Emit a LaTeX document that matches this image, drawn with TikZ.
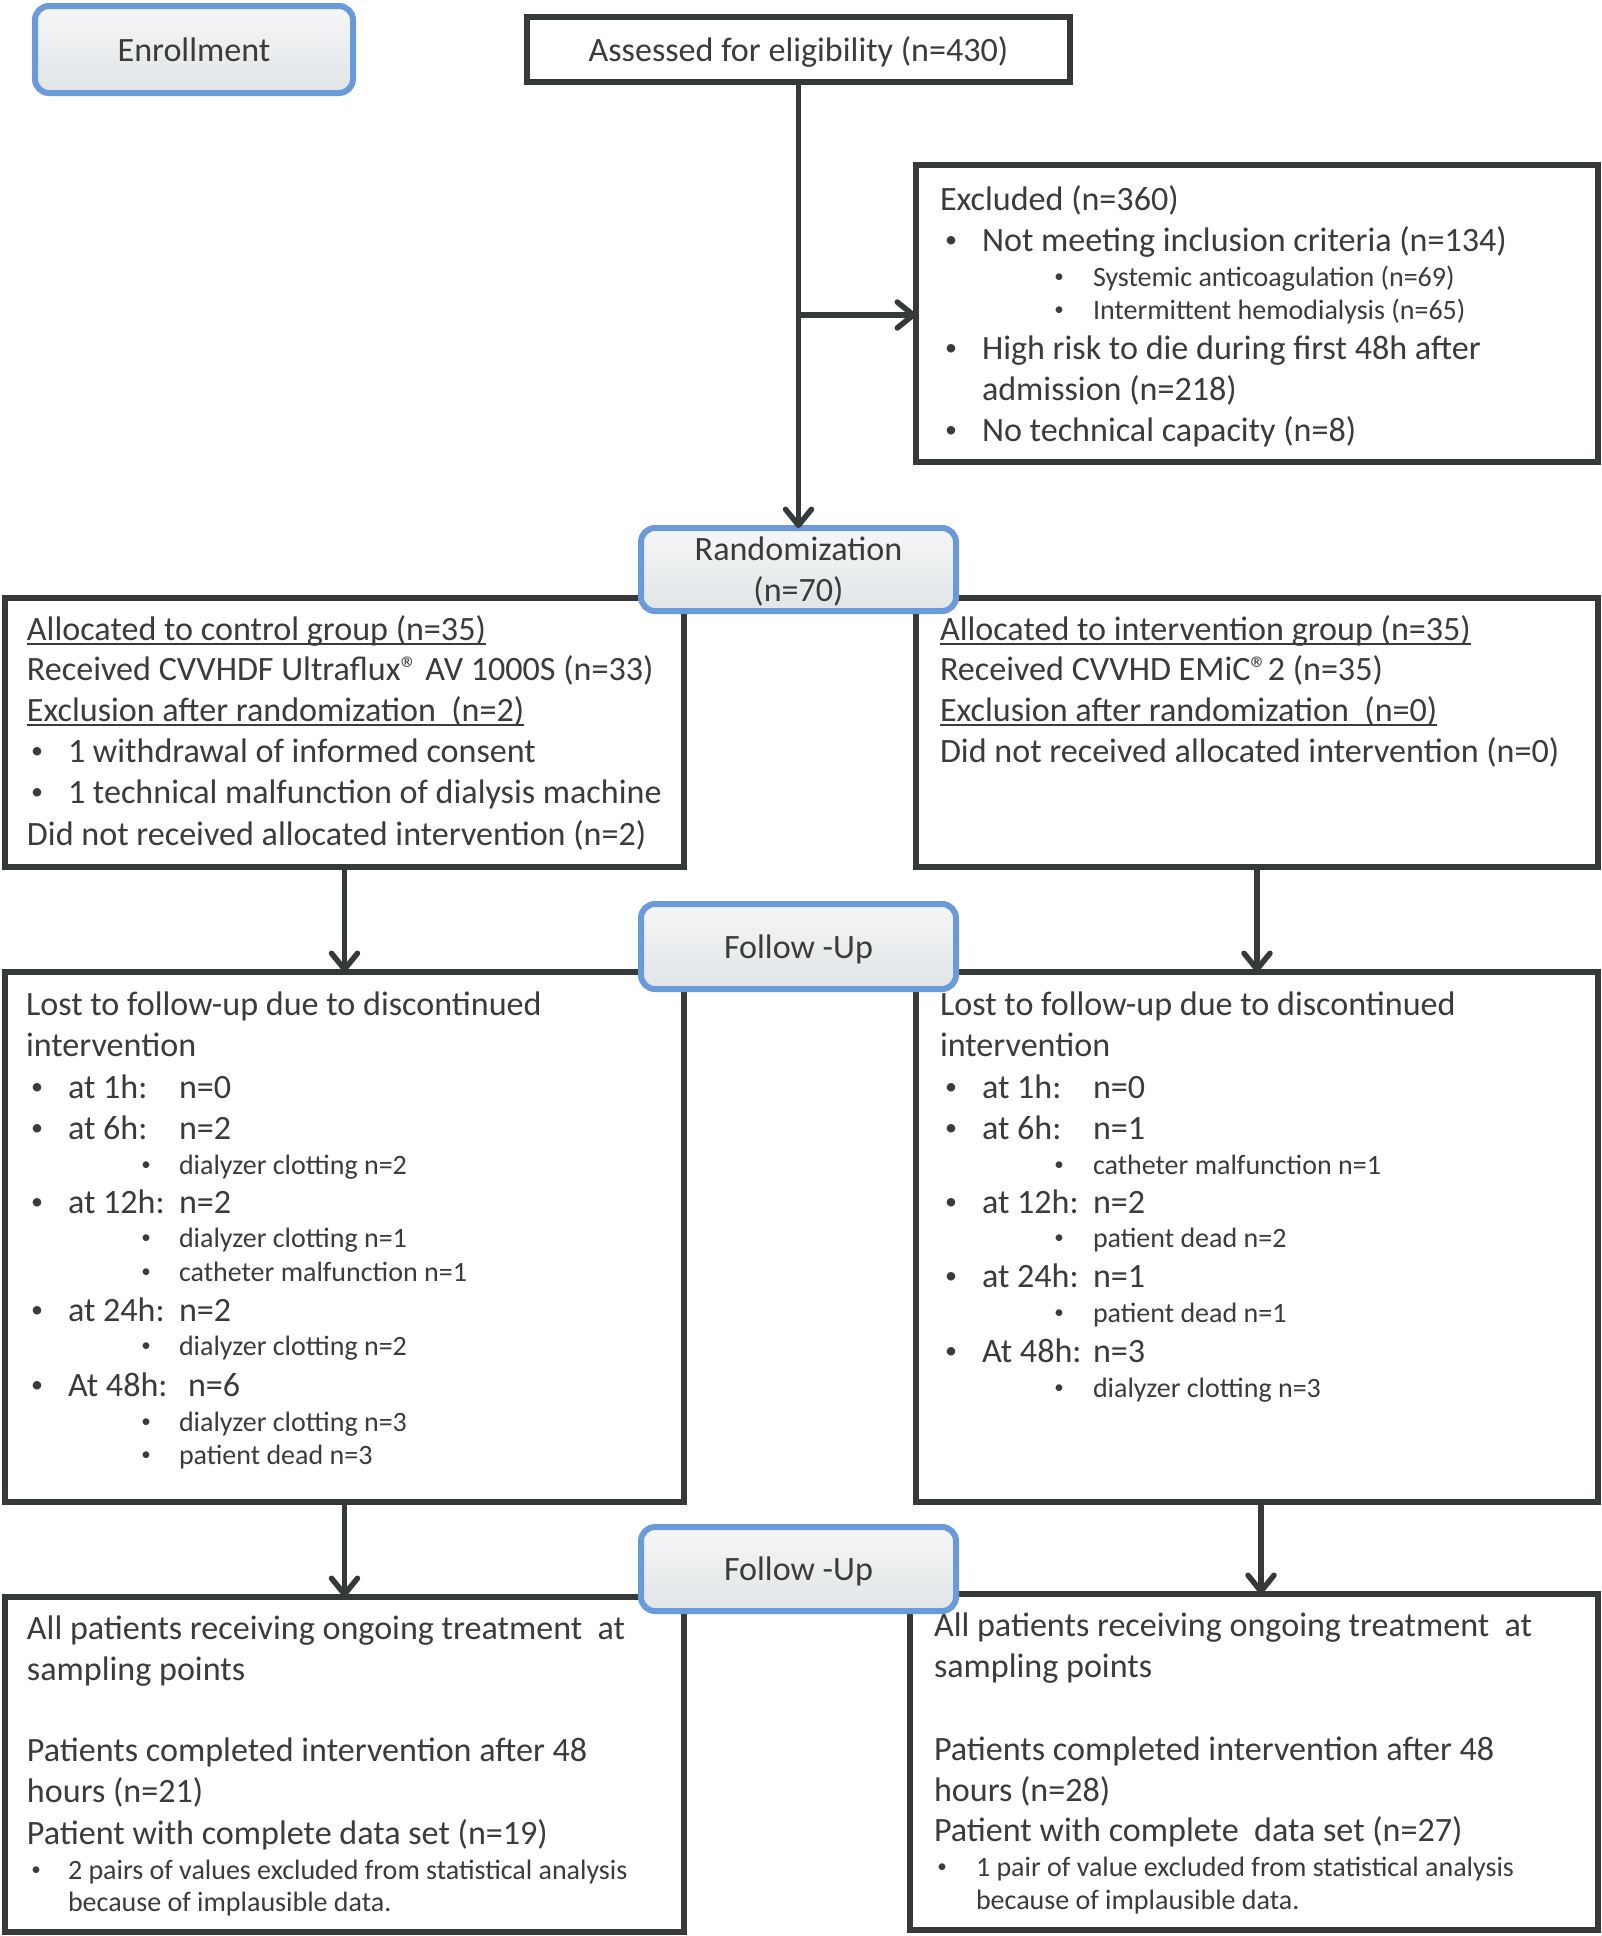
\documentclass[tikz,border=0pt]{standalone}
\usepackage{fontspec}
\setmainfont{Carlito}
\usetikzlibrary{arrows.meta}
\definecolor{dark}{HTML}{35393A}
\definecolor{txtc}{HTML}{3B3B3B}
\definecolor{blueb}{HTML}{6A9AD9}
\definecolor{gtop}{HTML}{F5F6F7}
\definecolor{gbot}{HTML}{E1E5E7}
\newcommand\fsM{\fontsize{34.1}{40.8}\selectfont}
\newcommand\fsS{\fontsize{28}{33}\selectfont}
\newcommand\myul[1]{\setbox0\hbox{#1}\rlap{\rule[-4.5pt]{\wd0}{1.8pt}}\box0}
\newcommand\reg{®}
\newcounter{lnc}
\newcommand\Ln[4]{\stepcounter{lnc}\node[#1] (t\arabic{lnc}) at (#2,#3) {#4};}
\newcommand\Bx[7]{\node[#2, minimum width={#5pt-#3pt}, minimum height={#6pt-#4pt}] (#1) at ({(#3+#5)/2},{(#4+#6)/2}) {#7};}
\tikzset{
  plainbox/.style={draw=dark, line width=5.5pt, fill=white, inner sep=0pt, outer sep=0pt},
  stage/.style={draw=blueb, line width=6pt, rounded corners=14pt, top color=gtop, bottom color=gbot, inner sep=0pt, outer sep=0pt, align=center, text=txtc, font=\fsM, text depth=0pt},
  txt/.style={anchor=base west, inner sep=0pt, outer sep=0pt, text=txtc, font=\fsM},
  sm/.style={txt, font=\fsS},
  bM/.style={anchor=base, inner sep=0pt, outer sep=0pt, text=txtc, font=\fontsize{24}{24}\selectfont, yshift=3.5pt},
  bS/.style={anchor=base, inner sep=0pt, outer sep=0pt, text=txtc, font=\fontsize{19}{19}\selectfont, yshift=3.5pt},
  arr/.style={draw=dark, line width=5.5pt, -{Straight Barb[length=16pt,width=26pt,round]}}
}
\begin{document}
\begin{tikzpicture}[x=1pt,y=-1pt]
\useasboundingbox[fill=white] (0,0) rectangle (1602,1936);
% top
\Bx{enroll}{stage}{35}{6}{353}{93}{Enrollment}
\Bx{assess}{plainbox,text=txtc,font=\fsM,text depth=0pt}{527}{17}{1070}{82}{Assessed for eligibility (n=430)}
\Bx{excl}{plainbox}{916}{165}{1598}{462}{}
% allocation
\Bx{ctrl}{plainbox}{5}{598}{684}{867}{}
\Bx{intv}{plainbox}{916}{598}{1598}{867}{}
\Bx{rand}{stage}{641}{528}{956}{611}{Randomization\\(n=70)}
% follow up
\Bx{lostL}{plainbox}{5}{972}{684}{1502}{}
\Bx{lostR}{plainbox}{916}{972}{1598}{1502}{}
\Bx{fu1}{stage}{641}{904}{956}{989}{Follow -Up}
% bottom
\Bx{botL}{plainbox}{5}{1597}{684}{1932}{}
\Bx{botR}{plainbox}{910}{1594}{1598}{1930}{}
\Bx{fu2}{stage}{641}{1527}{956}{1611}{Follow -Up}
% connectors
\draw[arr] (assess.south) -- (rand.north);
\coordinate (br) at (799,315);
\draw[arr] (br) -- (br -| excl.west);
\draw[arr] (ctrl.south) -- (lostL.north);
\draw[arr] (intv.south) -- (lostR.north);
\draw[arr] (lostL.south) -- (botL.north);
\draw[arr] ([xshift=4pt]lostR.south) -- ([xshift=4pt]lostR.south |- botR.north);
% excluded text
\Ln{txt}{940}{210}{Excluded (n=360)}
\Ln{bM}{951}{251}{•}
\Ln{txt}{982}{251}{Not meeting inclusion criteria (n=134)}
\Ln{bS}{1059}{286}{•}
\Ln{sm}{1093}{286}{Systemic anticoagulation (n=69)}
\Ln{bS}{1059}{319}{•}
\Ln{sm}{1093}{319}{Intermittent hemodialysis (n=65)}
\Ln{bM}{951}{359}{•}
\Ln{txt}{982}{359}{High risk to die during first 48h after}
\Ln{txt}{982}{400}{admission (n=218)}
\Ln{bM}{951}{441}{•}
\Ln{txt}{982}{441}{No technical capacity (n=8)}
% control allocation
\Ln{txt}{27}{640}{\myul{Allocated to control group (n=35)}}
\Ln{txt}{27}{680}{Received CVVHDF Ultraflux\reg{} AV 1000S (n=33)}
\Ln{txt}{27}{721}{\myul{Exclusion after randomization~ (n=2)}}
\Ln{bM}{37}{762}{•}
\Ln{txt}{68}{762}{1 withdrawal of informed consent}
\Ln{bM}{37}{803}{•}
\Ln{txt}{68}{803}{1 technical malfunction of dialysis machine}
\Ln{txt}{27}{845}{Did not received allocated intervention (n=2)}
% intervention allocation
\Ln{txt}{940}{640}{\myul{Allocated to intervention group (n=35)}}
\Ln{txt}{940}{680}{Received CVVHD EMiC\reg{}2 (n=35)}
\Ln{txt}{940}{721}{\myul{Exclusion after randomization~ (n=0)}}
\Ln{txt}{940}{762}{Did not received allocated intervention (n=0)}
% lost left
\Ln{txt}{26}{1015}{Lost to follow-up due to discontinued}
\Ln{txt}{26}{1056}{intervention}
\Ln{bM}{37}{1098}{•}\Ln{txt}{68}{1098}{at 1h:}\Ln{txt}{179}{1098}{n=0}
\Ln{bM}{37}{1139}{•}\Ln{txt}{68}{1139}{at 6h:}\Ln{txt}{179}{1139}{n=2}
\Ln{bS}{146}{1174}{•}\Ln{sm}{179}{1174}{dialyzer clotting n=2}
\Ln{bM}{37}{1213}{•}\Ln{txt}{68}{1213}{at 12h:}\Ln{txt}{179}{1213}{n=2}
\Ln{bS}{146}{1247}{•}\Ln{sm}{179}{1247}{dialyzer clotting n=1}
\Ln{bS}{146}{1281}{•}\Ln{sm}{179}{1281}{catheter malfunction n=1}
\Ln{bM}{37}{1321}{•}\Ln{txt}{68}{1321}{at 24h:}\Ln{txt}{179}{1321}{n=2}
\Ln{bS}{146}{1355}{•}\Ln{sm}{179}{1355}{dialyzer clotting n=2}
\Ln{bM}{37}{1396}{•}\Ln{txt}{68}{1396}{At 48h:}\Ln{txt}{188}{1396}{n=6}
\Ln{bS}{146}{1431}{•}\Ln{sm}{179}{1431}{dialyzer clotting n=3}
\Ln{bS}{146}{1464}{•}\Ln{sm}{179}{1464}{patient dead n=3}
% lost right
\Ln{txt}{940}{1015}{Lost to follow-up due to discontinued}
\Ln{txt}{940}{1056}{intervention}
\Ln{bM}{951}{1098}{•}\Ln{txt}{982}{1098}{at 1h:}\Ln{txt}{1093}{1098}{n=0}
\Ln{bM}{951}{1139}{•}\Ln{txt}{982}{1139}{at 6h:}\Ln{txt}{1093}{1139}{n=1}
\Ln{bS}{1059}{1174}{•}\Ln{sm}{1093}{1174}{catheter malfunction n=1}
\Ln{bM}{951}{1213}{•}\Ln{txt}{982}{1213}{at 12h:}\Ln{txt}{1093}{1213}{n=2}
\Ln{bS}{1059}{1247}{•}\Ln{sm}{1093}{1247}{patient dead n=2}
\Ln{bM}{951}{1287}{•}\Ln{txt}{982}{1287}{at 24h:}\Ln{txt}{1093}{1287}{n=1}
\Ln{bS}{1059}{1322}{•}\Ln{sm}{1093}{1322}{patient dead n=1}
\Ln{bM}{951}{1362}{•}\Ln{txt}{982}{1362}{At 48h:}\Ln{txt}{1093}{1362}{n=3}
\Ln{bS}{1059}{1397}{•}\Ln{sm}{1093}{1397}{dialyzer clotting n=3}
% bottom left
\Ln{txt}{27}{1639}{All patients receiving ongoing treatment~ at}
\Ln{txt}{27}{1680}{sampling points}
\Ln{txt}{27}{1761}{Patients completed intervention after 48}
\Ln{txt}{27}{1802}{hours (n=21)}
\Ln{txt}{27}{1844}{Patient with complete data set (n=19)}
\Ln{bS}{36}{1879}{•}\Ln{sm}{68}{1879}{2 pairs of values excluded from statistical analysis}
\Ln{sm}{68}{1911}{because of implausible data.}
% bottom right
\Ln{txt}{934}{1636}{All patients receiving ongoing treatment~ at}
\Ln{txt}{934}{1677}{sampling points}
\Ln{txt}{934}{1760}{Patients completed intervention after 48}
\Ln{txt}{934}{1801}{hours (n=28)}
\Ln{txt}{934}{1841}{Patient with complete~ data set (n=27)}
\Ln{bS}{942}{1876}{•}\Ln{sm}{976}{1876}{1 pair of value excluded from statistical analysis}
\Ln{sm}{976}{1909}{because of implausible data.}
\end{tikzpicture}
\end{document}
